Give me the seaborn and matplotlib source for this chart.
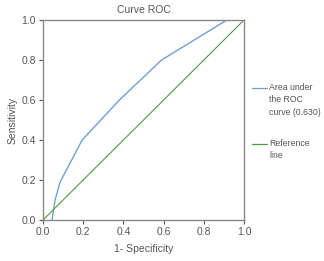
import matplotlib
matplotlib.use("Agg")
import matplotlib.pyplot as plt
from matplotlib.lines import Line2D
import seaborn as sns
import pandas as pd

# ROC curve
fpr = [0.045, 0.06, 0.085, 0.195, 0.38, 0.59, 0.915, 1.0]
tpr = [0.0, 0.10, 0.19, 0.40, 0.60, 0.80, 1.0, 1.0]
ref_x = [0.0, 1.0]
ref_y = [0.0, 1.0]
ticks = [0.0, 0.2, 0.4, 0.6, 0.8, 1.0]
legend_labels = ["Area under\nthe ROC\ncurve (0.630)", "Reference\nline"]

sns.set_theme(style="white")
plt.rcParams["font.family"] = ["Liberation Sans", "DejaVu Sans"]
text_col = "#555555"
roc_col = "#6f9fd4"
ref_col = "#4e9a3e"

W, H = 324, 261
fig = plt.figure(figsize=(W / 100, H / 100), dpi=100)
ax = fig.add_axes([43 / W, 1 - 220 / H, 201 / W, 200 / H])

roc = pd.DataFrame({"fpr": fpr, "tpr": tpr})
ref = pd.DataFrame({"x": ref_x, "y": ref_y})
sns.lineplot(data=roc, x="fpr", y="tpr", ax=ax, color=roc_col, lw=1.0,
             sort=False, legend=False)
sns.lineplot(data=ref, x="x", y="y", ax=ax, color=ref_col, lw=0.8,
             legend=False)

ax.set_xlim(0, 1)
ax.set_ylim(0, 1)
ax.set_xticks(ticks)
ax.set_yticks(ticks)
ax.set_xticklabels([f"{t:.1f}" for t in ticks])
ax.set_yticklabels([f"{t:.1f}" for t in ticks])
ax.tick_params(axis="both", labelsize=7.5, colors=text_col, length=3,
               width=0.8, pad=2, bottom=True, left=True)
for s in ax.spines.values():
    s.set_color("#888888")
    s.set_linewidth(1.0)

ax.set_title("Curve ROC", fontsize=7.5, color=text_col, pad=5)
ax.set_xlabel("1- Specificity", fontsize=7.5, color=text_col, labelpad=5)
ax.set_ylabel("Sensitivity", fontsize=7.5, color=text_col, labelpad=3)

# legend drawn by hand so the line sits beside the first text line
for label, col, y in zip(legend_labels, [roc_col, ref_col], [88, 144]):
    fig.add_artist(Line2D([252 / W, 267 / W], [1 - y / H, 1 - y / H],
                          color=col, lw=0.9))
    fig.text(269 / W, 1 - (y - 5.5) / H, label, fontsize=6.3, color=text_col,
             va="top", ha="left", linespacing=1.55)

fig.savefig("out.png", dpi=100)
